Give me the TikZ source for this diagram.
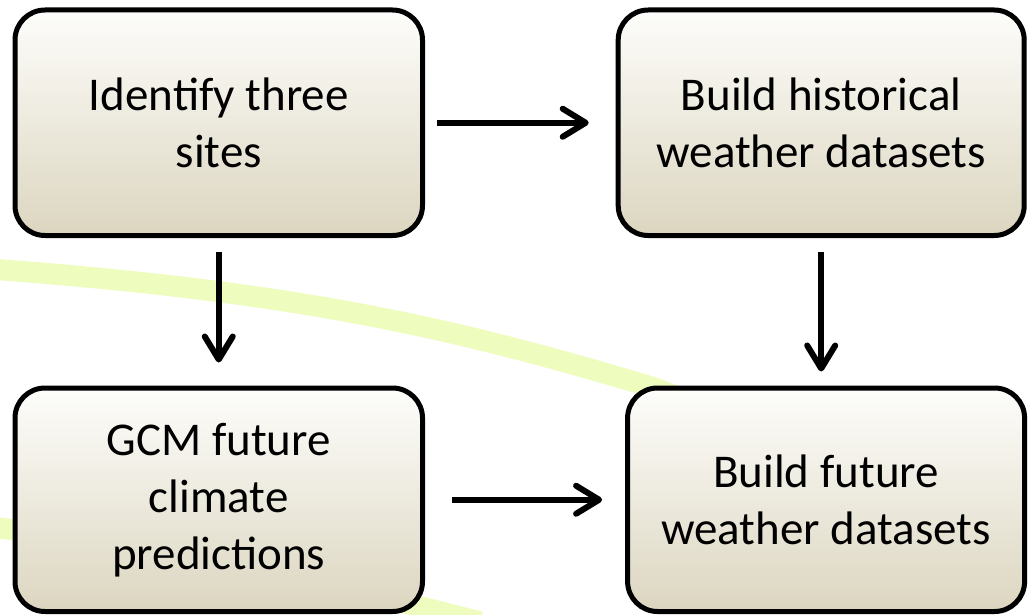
\documentclass[tikz,border=0pt]{standalone}
\usepackage{fontspec}
\setmainfont{Carlito}
\usetikzlibrary{arrows.meta}
\definecolor{bandgreen}{RGB}{238,252,190}
\definecolor{boxtop}{RGB}{253,253,251}
\definecolor{boxbottom}{RGB}{220,214,192}
\tikzset{
  stepbox/.style={draw=black, line width=5pt, rounded corners=30pt,
    top color=boxtop, bottom color=boxbottom, align=center,
    font=\fontsize{47}{57}\selectfont, inner sep=0pt},
  flow/.style={line width=6pt,
    -{Straight Barb[length=23pt,width=28pt,line cap=round,line join=round]}},
  band/.style={bandgreen, line width=21pt}
}
\begin{document}
\begin{tikzpicture}[x=1pt,y=-1pt]
  \useasboundingbox (0,0) rectangle (1028,615);
  \fill[white] (0,0) rectangle (1028,615);

  % curved background bands
  \draw[band] (-10,269) .. controls (300,292) and (455,328) .. (655,388) -- (760,430);
  \draw[band] (-10,527) .. controls (150,545) and (300,575) .. (480,622);

  % process steps
  \node[stepbox, minimum width=407.5pt, minimum height=225.5pt] (sites)
    at (218.75,122.75) {Identify three\\sites};
  \node[stepbox, minimum width=406pt, minimum height=225.5pt] (hist)
    at (821.2,122.75) {Build historical\\weather datasets};
  \node[stepbox, minimum width=407.5pt, minimum height=223.5pt] (gcm)
    at (218.75,499.75) {GCM future\\climate\\predictions};
  \node[stepbox, minimum width=397pt, minimum height=223.5pt] (fut)
    at (826.1,499.75) {Build future\\weather datasets};

  % connectors
  \draw[flow, shorten <=12pt, shorten >=27pt] (sites.east) -- (hist.west);
  \draw[flow, shorten <=27pt, shorten >=23pt] (gcm.east) -- (fut.west);
  \draw[flow, shorten <=14pt, shorten >=23pt] (sites.south) -- (gcm.north);
  \draw[flow, shorten <=14pt, shorten >=14pt] (hist.south) -- (hist.south |- fut.north);
\end{tikzpicture}
\end{document}
